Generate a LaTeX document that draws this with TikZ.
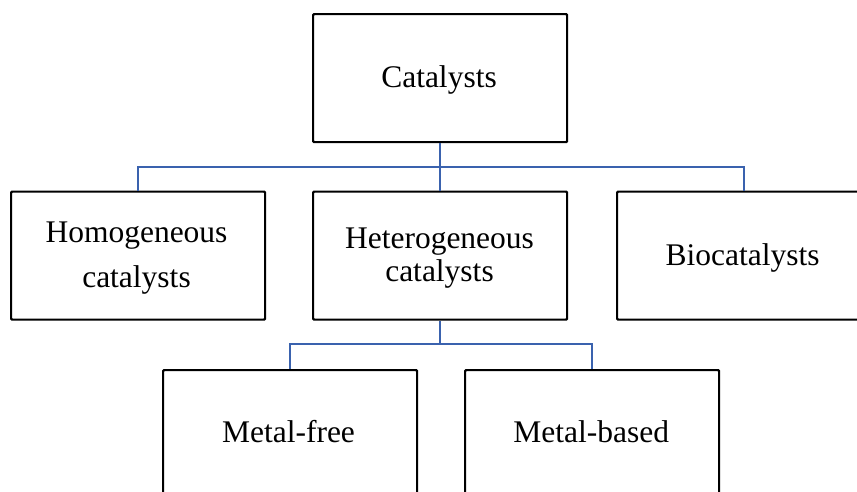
\documentclass[tikz,border=0pt]{standalone}
\usepackage{fontspec}
\setmainfont{Liberation Serif}
\definecolor{linkblue}{RGB}{58,98,174}
\begin{document}
\begin{tikzpicture}[x=1pt,y=-1pt,
  box/.style={draw=black, line width=2.2pt, rounded corners=1pt, minimum width=254pt, minimum height=128pt, anchor=north west, inner sep=0pt},
  lbl/.style={anchor=base, inner sep=0pt, font=\fontsize{31.5}{34}\selectfont},
  conn/.style={draw=linkblue, line width=2.7pt}]
\useasboundingbox (0,0) rectangle (857,491);
\clip (0,0) rectangle (857,491);
% boxes
\node[box] (cat) at (312,13) {};
\node[box] (homo) at (10,190.5) {};
\node[box] (hetero) at (312,190.5) {};
\node[box] (bio) at (616,190.5) {};
\node[box] (free) at (162,369) {};
\node[box] (based) at (464,369) {};
\coordinate (bus1) at (cat.south |- 0,167);
\coordinate (bus2) at (hetero.south |- 0,344);
% texts
\node[lbl] (tcat) at (439,87) {Catalysts};
\node[lbl] (thomoa) at (136.5,242.7) {Homogeneous};
\node[lbl] (thomob) at (136.5,287) {catalysts};
\node[lbl] (theteroa) at (439.5,248.3) {Heterogeneous};
\node[lbl] (theterob) at (439.5,281.7) {catalysts};
\node[lbl] (tbio) at (742.5,265) {Biocatalysts};
\node[lbl] (tfree) at (288.5,442.7) {Metal-free};
\node[lbl] (tbased) at (591.3,442.7) {Metal-based};
% connector lines
\draw[conn] (cat.south) -- (hetero.north);
\draw[conn] (homo.north) |- (bus1) -| (bio.north);
\draw[conn] (hetero.south) -- (bus2);
\draw[conn] (free.north) |- (bus2) -| (based.north);
\end{tikzpicture}
\end{document}
